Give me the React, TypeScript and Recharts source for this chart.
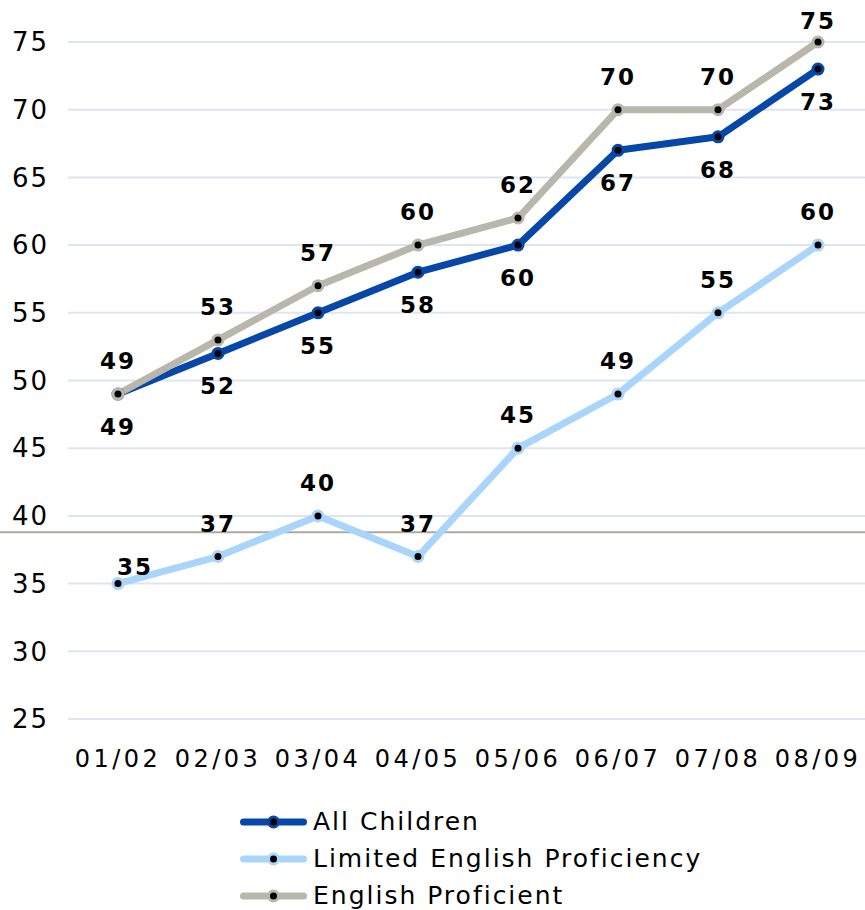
import React from 'react';
import { LineChart, Line, XAxis, YAxis, CartesianGrid, ReferenceLine, Legend, LabelList } from 'recharts';

const years = ['01/02', '02/03', '03/04', '04/05', '05/06', '06/07', '07/08', '08/09'];
const allChildren = [49, 52, 55, 58, 60, 67, 68, 73];
const limitedEnglish = [35, 37, 40, 37, 45, 49, 55, 60];
const englishProficient = [49, 53, 57, 60, 62, 70, 70, 75];
const yTicks = [25, 30, 35, 40, 45, 50, 55, 60, 65, 70, 75];
const referenceValue = 38.8;

const series = [
  { key: 'all', name: 'All Children', color: '#0747A8', values: allChildren, place: 'below' },
  { key: 'lep', name: 'Limited English Proficiency', color: '#A9D5FB', values: limitedEnglish, place: 'above' },
  { key: 'ep', name: 'English Proficient', color: '#B9B7AB', values: englishProficient, place: 'above' },
];

const data = years.map((y, i) => ({
  year: y,
  all: allChildren[i],
  lep: limitedEnglish[i],
  ep: englishProficient[i],
}));

const FONT = 'Verdana, "DejaVu Sans", sans-serif';

const makeLabel = (place: string, seriesKey: string) => (props: any) => {
  const { x, y, value, index } = props;
  let tx = x;
  let ty;
  if (place === 'below') {
    ty = y + 41;
  } else {
    ty = Math.max(y - 25, 29);
    if (seriesKey === 'lep' && index === 0) {
      tx = x + 17;
      ty = y - 9;
    }
  }
  return (
    <text
      x={tx}
      y={ty}
      textAnchor="middle"
      fontFamily={FONT}
      fontWeight="bold"
      fontSize={23}
      letterSpacing={2}
      fill="#000"
    >
      {value}
    </text>
  );
};

const Dot = (color: string) => (props: any) => {
  const { cx, cy, index } = props;
  if (cx == null || cy == null) return null;
  return <circle key={index} cx={cx} cy={cy} r={5} fill="#000" stroke={color} strokeWidth={3} />;
};

const RefShape = (props: any) => {
  const { y1, x2, y2 } = props;
  return <line x1={0} y1={y1} x2={x2} y2={y2 ?? y1} stroke="#ADA99B" strokeWidth={2} />;
};

const LegendContent = () => (
  <div style={{ height: 112, paddingTop: 5, boxSizing: 'border-box', fontFamily: FONT }}>
    {series.map((s) => (
      <div key={s.key} style={{ height: 37, display: 'flex', alignItems: 'center', paddingLeft: 240 }}>
        <svg width={67} height={16} style={{ display: 'block' }}>
          <line x1={3.5} y1={8} x2={63.5} y2={8} stroke={s.color} strokeWidth={7} strokeLinecap="round" />
          <circle cx={33.5} cy={8} r={5} fill="#000" stroke={s.color} strokeWidth={3} />
        </svg>
        <span style={{ marginLeft: 6, fontSize: 25, letterSpacing: 2, color: '#000', lineHeight: '37px' }}>{s.name}</span>
      </div>
    ))}
  </div>
);

export default function App() {
  return (
    <div style={{ position: 'absolute', left: 0, top: 0, width: 865, height: 910, background: '#fff' }}>
      <LineChart width={865} height={910} data={data} margin={{ top: 42, right: 0, bottom: 0, left: 0 }}>
        <CartesianGrid horizontal vertical={false} stroke="#DCE6F2" strokeWidth={2} />
        <XAxis
          dataKey="year"
          axisLine={false}
          tickLine={false}
          tickSize={0}
          tickMargin={31}
          height={79}
          padding={{ left: 50, right: 47 }}
          interval={0}
          tick={{ fill: '#000', fontSize: 24, fontFamily: FONT, letterSpacing: 3.5 }}
        />
        <YAxis
          domain={[25, 75]}
          ticks={yTicks}
          width={68}
          axisLine={false}
          tickLine={false}
          tickSize={0}
          tickMargin={19}
          interval={0}
          tick={{ fill: '#000', fontSize: 26, fontFamily: FONT, letterSpacing: 2 }}
        />
        <ReferenceLine y={referenceValue} shape={RefShape} />
        <Legend verticalAlign="bottom" align="left" content={LegendContent} wrapperStyle={{ left: 0, width: 865 }} />
        {series.map((s) => (
          <Line
            key={s.key}
            dataKey={s.key}
            name={s.name}
            stroke={s.color}
            strokeWidth={7}
            strokeLinejoin="round"
            strokeLinecap="round"
            dot={Dot(s.color)}
            activeDot={false}
            isAnimationActive={false}
          >
            <LabelList dataKey={s.key} content={makeLabel(s.place, s.key)} />
          </Line>
        ))}
      </LineChart>
    </div>
  );
}
